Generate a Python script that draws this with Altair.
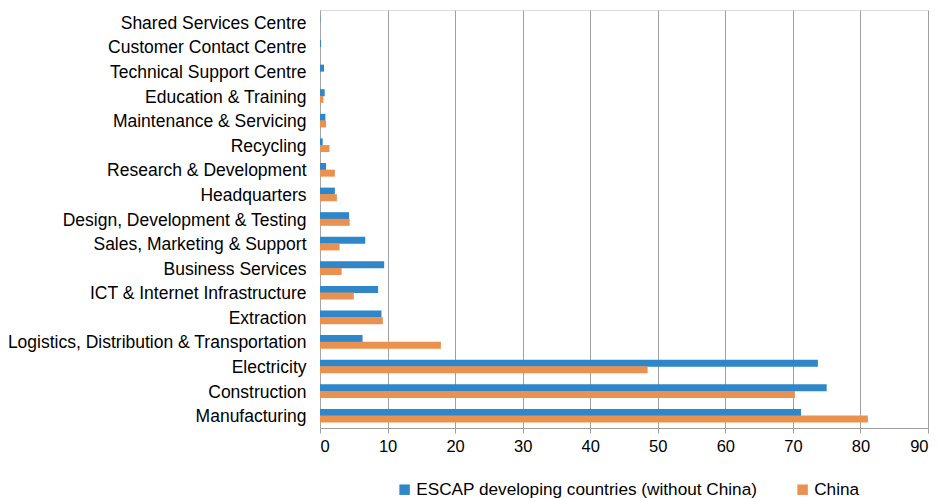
import altair as alt
import pandas as pd

categories = [
    "Shared Services Centre", "Customer Contact Centre", "Technical Support Centre",
    "Education & Training", "Maintenance & Servicing", "Recycling",
    "Research & Development", "Headquarters", "Design, Development & Testing",
    "Sales, Marketing & Support", "Business Services", "ICT & Internet Infrastructure",
    "Extraction", "Logistics, Distribution & Transportation", "Electricity",
    "Construction", "Manufacturing",
]
escap = [0.05, 0.15, 0.6, 0.7, 0.8, 0.4, 0.9, 2.2, 4.3, 6.7, 9.5, 8.6, 9.1, 6.3, 73.7, 75.0, 71.2]
china = [0.0, 0.0, 0.0, 0.5, 0.9, 1.4, 2.2, 2.5, 4.4, 2.9, 3.2, 5.0, 9.3, 17.9, 48.5, 70.3, 81.1]
series_names = ["ESCAP developing countries (without China)", "China"]
colors = ["#2F86C8", "#EB914F"]

rows = []
for c, a, b in zip(categories, escap, china):
    rows.append({"category": c, "series": series_names[0], "value": a, "order": 0})
    rows.append({"category": c, "series": series_names[1], "value": b, "order": 1})
df = pd.DataFrame(rows)

font = "Liberation Sans"

chart = alt.Chart(df).mark_bar(size=7).encode(
    y=alt.Y("category:N", sort=categories, title=None,
            scale=alt.Scale(paddingInner=0.46, paddingOuter=0.23),
            axis=alt.Axis(ticks=False, labelPadding=14, labelFontSize=17.5, labelFont=font,
                          labelColor="#000000", domainColor="#A6A6A6", labelLimit=400,
                          labelOffset=1.5)),
    yOffset=alt.YOffset("order:O"),
    x=alt.X("value:Q", title=None,
            scale=alt.Scale(domain=[0, 90], nice=False),
            axis=alt.Axis(values=list(range(0, 91, 10)), labelFontSize=16.5, labelFont=font,
                          labelColor="#000000", gridColor="#A0A0A0", domainColor="#A0A0A0",
                          tickColor="#A0A0A0", tickSize=5, labelPadding=5)),
    color=alt.Color("series:N", sort=series_names,
                    scale=alt.Scale(domain=series_names, range=colors),
                    legend=alt.Legend(title=None, orient="none", legendX=76, legendY=471,
                                      direction="horizontal", symbolType="square",
                                      symbolSize=110, symbolStrokeWidth=0,
                                      labelFontSize=17.2, labelFont=font, labelColor="#000000",
                                      labelLimit=0, columnPadding=36, symbolOffset=0,
                                      labelOffset=3)),
).properties(
    width=608, height=418,
    autosize=alt.AutoSizeParams(type="none"),
    padding={"left": 320, "top": 10, "right": 10, "bottom": 70},
).configure_view(stroke="#A0A0A0", strokeWidth=1).configure(background="white")

chart.save("out.html", embed_options={"renderer": "svg", "actions": False})
